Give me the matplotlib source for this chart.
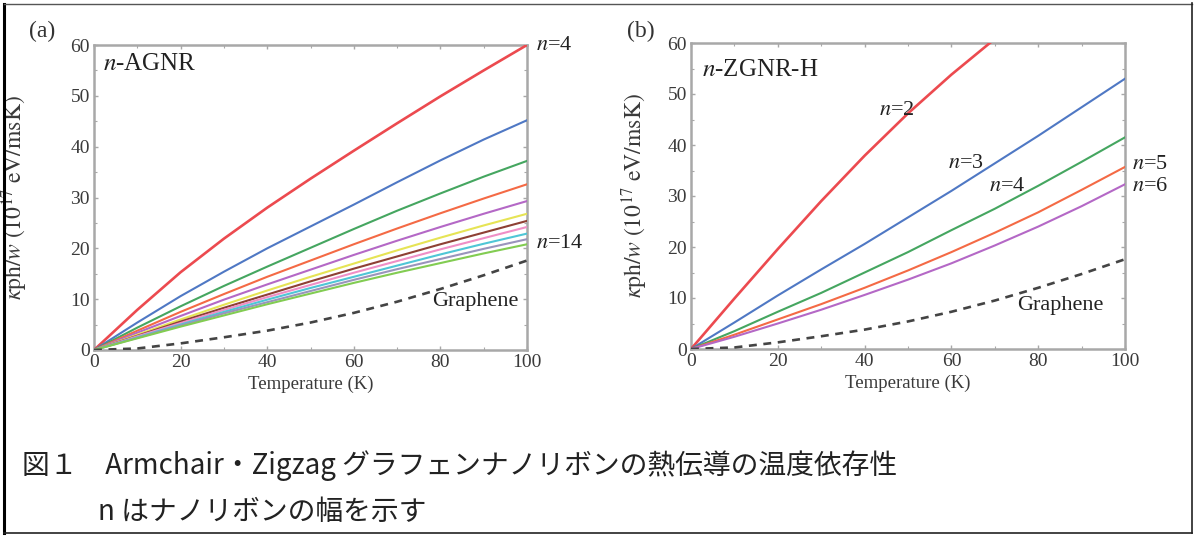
import matplotlib
matplotlib.use("Agg")
import matplotlib.pyplot as plt
from matplotlib.lines import Line2D
from matplotlib.ticker import MultipleLocator

plt.rcParams['font.family'] = ['Liberation Serif', 'DejaVu Serif']
plt.rcParams['mathtext.fontset'] = 'stix'

# ---------------- data ----------------
temps = [0, 10, 20, 30, 40, 50, 60, 70, 80, 90, 100]

agnr_n = [4, 5, 6, 7, 8, 9, 10, 11, 12, 13, 14]
agnr_vals = [
    [0, 7.9, 15.3, 21.9, 28.0, 33.7, 39.2, 44.6, 49.9, 55.0, 60.0],
    [0, 5.4, 10.6, 15.4, 20.0, 24.3, 28.6, 33.0, 37.3, 41.4, 45.2],
    [0, 4.4, 8.6, 12.6, 16.4, 20.1, 23.8, 27.4, 30.8, 34.1, 37.2],
    [0, 3.8, 7.5, 11.0, 14.4, 17.6, 20.8, 23.9, 26.9, 29.8, 32.6],
    [0, 3.4, 6.7, 9.9, 12.9, 15.8, 18.7, 21.5, 24.2, 26.8, 29.3],
    [0, 3.0, 6.0, 8.9, 11.7, 14.4, 17.0, 19.6, 22.1, 24.5, 26.8],
    [0, 2.8, 5.6, 8.3, 10.9, 13.5, 16.0, 18.4, 20.8, 23.1, 25.4],
    [0, 2.7, 5.3, 7.9, 10.4, 12.8, 15.2, 17.5, 19.8, 22.0, 24.2],
    [0, 2.5, 5.0, 7.5, 9.9, 12.2, 14.4, 16.6, 18.8, 20.9, 22.9],
    [0, 2.4, 4.8, 7.2, 9.4, 11.6, 13.8, 15.9, 17.9, 19.9, 21.8],
    [0, 2.3, 4.6, 6.8, 9.0, 11.1, 13.2, 15.2, 17.1, 19.0, 20.8],
]
agnr_colors = ['#ec4a4f', '#4f78c4', '#45a660', '#f46a45', '#b468c6', '#e6e455',
               '#8e4034', '#ef8fc6', '#4fc6d6', '#9a94bc', '#82cc52']

zgnr_n = [2, 3, 4, 5, 6]
zgnr_vals = [
    [0, 9.9, 19.6, 29.0, 37.9, 46.2, 53.8, 60.8, 67.5, 74.0, 80.3],
    [0, 5.2, 10.5, 15.6, 20.6, 25.8, 31.0, 36.4, 41.8, 47.4, 53.0],
    [0, 3.5, 7.3, 11.0, 15.0, 19.0, 23.3, 27.5, 32.0, 36.7, 41.5],
    [0, 2.8, 5.8, 8.8, 12.0, 15.4, 19.0, 22.8, 26.8, 31.2, 35.7],
    [0, 2.4, 5.0, 7.7, 10.6, 13.6, 16.8, 20.3, 24.0, 28.0, 32.3],
]
zgnr_colors = ['#ec4a4f', '#4f78c4', '#45a660', '#f46a45', '#b468c6']

graphene_vals = [0, 0.3, 1.3, 2.5, 3.8, 5.4, 7.3, 9.5, 12.0, 14.7, 17.6]

xticks = [0, 20, 40, 60, 80, 100]
yticks = [0, 10, 20, 30, 40, 50, 60]

caption1 = "図１　Armchair・Zigzag グラフェンナノリボンの熱伝導の温度依存性"
caption2 = "n はナノリボンの幅を示す"

# ---------------- figure ----------------
W, H = 1195, 536
fig = plt.figure(figsize=(W / 100, H / 100), dpi=100)

def fx(px):
    return px / W

def fy(py):
    return 1 - py / H

ax_a = fig.add_axes([fx(94), fy(350), fx(527) - fx(94), fy(45) - fy(350)])
ax_b = fig.add_axes([fx(691), fy(349), fx(1125) - fx(691), fy(43) - fy(349)])

spine_col = '#a8a8a8'
text_col = '#3a3a3a'
lab_col = '#222222'

def style(ax, ylab_x):
    ax.set_xlim(0, 100)
    ax.set_ylim(0, 60)
    ax.set_xticks(xticks)
    ax.set_yticks(yticks)
    ax.xaxis.set_minor_locator(MultipleLocator(10))
    ax.yaxis.set_minor_locator(MultipleLocator(5))
    ax.tick_params(which='both', direction='in', top=True, right=True,
                   color=spine_col, labelcolor=text_col, labelsize=14, pad=3)
    ax.tick_params(which='major', length=3, width=1)
    ax.tick_params(which='minor', length=2, width=0.8)
    for s in ax.spines.values():
        s.set_color(spine_col)
        s.set_linewidth(1.8)
    ax.set_xlabel('Temperature (K)', fontsize=13.5, color=text_col, labelpad=3)
    ax.set_ylabel(r'$\kappa{\rm ph}/w\ (10^{17}\ {\rm eV/msK})$', fontsize=17,
                  color=text_col)
    ax.yaxis.set_label_coords(ylab_x, 0.5)

# panel (a)
for vals, c in zip(agnr_vals, agnr_colors):
    ax_a.plot(temps, vals, color=c, lw=1.5 if c != '#ec4a4f' else 1.9, zorder=3)
ax_a.plot(temps, graphene_vals, color='#444444', lw=1.9, ls=(0, (3, 2.5)), zorder=3)
style(ax_a, -0.148)
ax_a.text(2, 56.2, r'$n$-AGNR', fontsize=18, color=lab_col, va='center', ha='left')
ax_a.text(102, 60, r'$n$=4', fontsize=16, color=lab_col, va='center', ha='left')
ax_a.text(102, 21.0, r'$n$=14', fontsize=16, color=lab_col, va='center', ha='left')
ax_a.text(88, 9.6, 'Graphene', fontsize=16, color=lab_col, va='center', ha='center')
fig.text(fx(29), fy(31), '(a)', fontsize=17, color='#333333', va='center', ha='left')

# panel (b)
for vals, c in zip(zgnr_vals, zgnr_colors):
    ax_b.plot(temps, vals, color=c, lw=1.5 if c != '#ec4a4f' else 1.9, zorder=3)
ax_b.plot(temps, graphene_vals, color='#444444', lw=1.9, ls=(0, (3, 2.5)), zorder=3)
style(ax_b, -0.094)
ax_b.text(2.5, 54.8, r'$n$-ZGNR-H', fontsize=18, color=lab_col, va='center', ha='left')
ax_b.text(51.5, 46.8, r'$n$=2', fontsize=16, color=lab_col, va='center', ha='right')
ax_b.text(67.5, 36.3, r'$n$=3', fontsize=16, color=lab_col, va='center', ha='right')
ax_b.text(77.0, 31.8, r'$n$=4', fontsize=16, color=lab_col, va='center', ha='right')
ax_b.text(101.5, 36.2, r'$n$=5', fontsize=16, color=lab_col, va='center', ha='left')
ax_b.text(101.5, 31.9, r'$n$=6', fontsize=16, color=lab_col, va='center', ha='left')
ax_b.text(85, 8.6, 'Graphene', fontsize=16, color=lab_col, va='center', ha='center')
fig.text(fx(627), fy(31), '(b)', fontsize=17, color='#333333', va='center', ha='left')

# caption
cap_font = ['Noto Sans CJK JP', 'DejaVu Sans']
fig.text(fx(22), fy(466), caption1, fontsize=20, family=cap_font, color='#222222',
         va='center', ha='left')
fig.text(fx(98), fy(512), caption2, fontsize=20, family=cap_font, color='#222222',
         va='center', ha='left')

# outer frame
fig.add_artist(Line2D([fx(4), fx(4)], [fy(4), fy(533)], transform=fig.transFigure,
                      color='black', lw=2.2))
fig.add_artist(Line2D([fx(4), fx(1192)], [fy(3.5), fy(3.5)], transform=fig.transFigure,
                      color='#555555', lw=1.0))
fig.add_artist(Line2D([fx(1192), fx(1192)], [fy(3), fy(533)], transform=fig.transFigure,
                      color='#222222', lw=1.2))
fig.add_artist(Line2D([fx(4), fx(1192)], [fy(533), fy(533)], transform=fig.transFigure,
                      color='#222222', lw=1.2))

fig.savefig('out.png', dpi=100)
